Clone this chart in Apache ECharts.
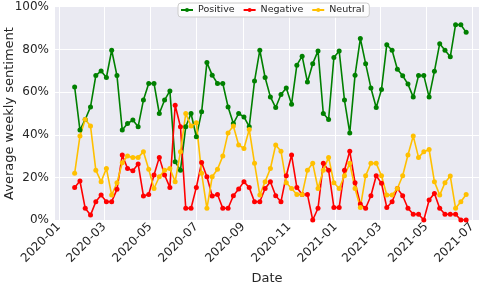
<!DOCTYPE html>
<html>
<head>
    <meta charset="utf-8">
    <style type="text/css">
        html,body { margin: 0px; padding: 0px; background: #fff; }
        #chart { width: 484px; height: 287px; }
    </style>
    <script src="https://cdn.jsdelivr.net/npm/echarts@6/dist/echarts.min.js"></script>
</head>
<body>
    <div id="chart"></div>
    <script type="text/javascript">
        // weekly dates
        var weeks = [
            '2020-01-22','2020-01-29','2020-02-05','2020-02-12','2020-02-19','2020-02-26',
            '2020-03-04','2020-03-11','2020-03-18','2020-03-25','2020-04-01','2020-04-08',
            '2020-04-15','2020-04-22','2020-04-29','2020-05-06','2020-05-13','2020-05-20',
            '2020-05-27','2020-06-03','2020-06-10','2020-06-17','2020-06-24','2020-07-01',
            '2020-07-08','2020-07-15','2020-07-22','2020-07-29','2020-08-05','2020-08-12',
            '2020-08-19','2020-08-26','2020-09-02','2020-09-09','2020-09-16','2020-09-23',
            '2020-09-30','2020-10-07','2020-10-14','2020-10-21','2020-10-28','2020-11-04',
            '2020-11-11','2020-11-18','2020-11-25','2020-12-02','2020-12-09','2020-12-16',
            '2020-12-23','2020-12-30','2021-01-06','2021-01-13','2021-01-20','2021-01-27',
            '2021-02-03','2021-02-10','2021-02-17','2021-02-24','2021-03-03','2021-03-10',
            '2021-03-17','2021-03-24','2021-03-31','2021-04-07','2021-04-14','2021-04-21',
            '2021-04-28','2021-05-05','2021-05-12','2021-05-19','2021-05-26','2021-06-02',
            '2021-06-09','2021-06-16','2021-06-23'
        ];
        var positive = [
            62.5, 42.2, 47.2, 53.1, 67.8, 70.0, 66.9, 79.7, 67.8, 42.2, 45.3, 46.9,
            43.8, 56.3, 64.1, 64.1, 50.0, 56.3, 60.6, 27.3, 23.4, 43.8, 50.0, 39.1,
            50.8, 73.9, 68.0, 64.1, 64.1, 53.1, 45.3, 50.0, 48.4, 43.8, 65.2, 79.7,
            66.9, 57.8, 52.8, 58.9, 62.0, 54.4, 72.7, 76.9, 64.8, 73.4, 79.4, 50.0,
            47.2, 76.3, 79.4, 56.3, 40.9, 68.0, 85.2, 73.4, 62.0, 52.8, 61.3, 82.3,
            79.7, 70.8, 67.7, 63.8, 57.7, 67.8, 67.8, 57.7, 69.8, 82.8, 79.7, 76.6,
            91.7, 91.7, 88.1
        ];
        var negative = [
            15.3, 18.3, 5.5, 2.3, 8.6, 11.7, 8.6, 8.6, 14.4, 30.5, 24.2, 23.1,
            26.3, 11.3, 12.0, 21.1, 29.4, 21.1, 15.3, 53.9, 43.8, 5.5, 5.5, 15.3,
            27.0, 20.3, 11.3, 12.0, 5.5, 5.5, 11.4, 14.5, 18.0, 15.2, 8.6, 8.6,
            14.8, 18.0, 11.4, 8.6, 20.8, 30.5, 15.3, 12.0, 12.0, 0.0, 5.5, 26.6,
            23.4, 5.9, 5.9, 23.4, 32.3, 17.5, 7.5, 5.5, 11.4, 20.8, 17.2, 5.9,
            8.6, 14.8, 11.4, 5.5, 2.7, 2.7, 0.0, 9.4, 12.5, 5.5, 2.7, 2.7,
            2.7, 0.0, 0.0
        ];
        var neutral = [
            21.9, 39.4, 47.2, 44.1, 23.4, 18.0, 24.2, 11.7, 17.5, 26.9, 30.0, 29.4,
            29.4, 32.0, 23.8, 14.8, 20.3, 23.4, 24.2, 18.0, 32.0, 50.0, 44.1, 45.6,
            21.9, 5.5, 20.3, 23.8, 30.0, 40.9, 44.1, 35.2, 33.6, 42.5, 26.6, 11.7,
            18.0, 24.2, 35.2, 32.3, 17.5, 14.8, 12.0, 12.0, 23.4, 26.6, 14.8, 23.4,
            29.4, 17.5, 14.8, 20.8, 26.6, 14.8, 5.9, 20.8, 26.6, 26.6, 20.8, 11.7,
            11.7, 14.8, 20.8, 30.5, 39.4, 29.4, 32.0, 33.1, 18.0, 11.7, 17.5, 20.6,
            5.5, 8.6, 12.0
        ];
        // x tick positions (every other month) and y ticks
        var monthTicks = [
            '2020-01-01','2020-03-01','2020-05-01','2020-07-01','2020-09-01',
            '2020-11-01','2021-01-01','2021-03-01','2021-05-01','2021-07-01'
        ];
        var yTicks = [20, 40, 60, 80];

        function ts(s){
            var p = s.split('-');
            return new Date(+p[0], +p[1] - 1, +p[2]).getTime();
        }
        function pairs(vals){
            return vals.map(function(v, i){ return [ts(weeks[i]), v]; });
        }
        function fmtMonth(v){
            var d = new Date(v);
            var m = d.getMonth() + 1;
            return d.getFullYear() + '-' + (m < 10 ? '0' + m : m);
        }

        var xMin = ts('2019-12-27');
        var xMax = ts('2021-07-10');
        var tickVals = monthTicks.map(ts);
        var textColor = '#262626';
        var font = 'DejaVu Sans';
        var bgColor = '#eaeaf2';

        var gridLines = tickVals.map(function(v){ return { xAxis: v }; })
            .concat(yTicks.map(function(v){ return { yAxis: v }; }));

        function lineSeries(name, color, vals){
            return {
                name: name,
                type: 'line',
                data: pairs(vals),
                symbol: 'circle',
                symbolSize: 5,
                showSymbol: true,
                z: 3,
                lineStyle: { color: color, width: 1.6 },
                itemStyle: { color: color },
                animation: false
            };
        }

        var myChart = echarts.init(document.getElementById('chart'), null, { renderer: 'canvas' });
        var option = {
            animation: false,
            backgroundColor: '#ffffff',
            textStyle: { fontFamily: font },
            grid: { left: 55, right: 5, top: 7, bottom: 67, outerBoundsMode: 'none', containLabel: false,
                    show: true, backgroundColor: bgColor, borderColor: bgColor, borderWidth: 0 },
            legend: {
                data: ['Positive', 'Negative', 'Neutral'],
                top: 3,
                left: 178,
                padding: [2, 5, 2, 2],
                itemGap: 8,
                itemWidth: 12,
                itemHeight: 5,
                backgroundColor: 'rgba(255,255,255,0.85)',
                borderColor: '#cccccc',
                borderWidth: 1,
                borderRadius: 3,
                textStyle: { fontFamily: font, fontSize: 9.5, color: textColor }
            },
            xAxis: {
                type: 'value',
                min: xMin,
                max: xMax,
                name: 'Date',
                nameLocation: 'middle',
                nameGap: 52,
                nameMoveOverlap: false,
                nameTextStyle: { fontFamily: font, fontSize: 13, color: textColor },
                axisLine: { show: false },
                axisTick: { show: false, customValues: tickVals },
                axisLabel: {
                    customValues: tickVals,
                    rotate: 45,
                    margin: 5,
                    fontFamily: font,
                    fontSize: 12,
                    color: textColor,
                    formatter: fmtMonth
                },
                splitLine: { show: false }
            },
            yAxis: {
                type: 'value',
                min: 0,
                max: 100,
                interval: 20,
                name: 'Average weekly sentiment',
                nameLocation: 'middle',
                nameGap: 39,
                nameMoveOverlap: false,
                nameTextStyle: { fontFamily: font, fontSize: 13, color: textColor },
                axisLine: { show: false },
                axisTick: { show: false },
                axisLabel: { formatter: '{value}%', fontFamily: font, fontSize: 12, color: textColor, margin: 6 },
                splitArea: { show: true, areaStyle: { color: [bgColor, bgColor], opacity: 1 } },
                splitLine: { show: false }
            },
            series: [
                {   // plot background and white grid lines
                    type: 'line',
                    data: [],
                    silent: true,
                    z: 1,
                    markArea: {
                        silent: true,
                        z: 1,
                        animation: false,
                        itemStyle: { color: bgColor, opacity: 1 },
                        data: [[{ xAxis: xMin, yAxis: 0 }, { xAxis: xMax, yAxis: 100 }]]
                    },
                    markLine: {
                        silent: true,
                        z: 2,
                        symbol: 'none',
                        animation: false,
                        label: { show: false },
                        lineStyle: { color: '#ffffff', width: 1, type: 'solid', opacity: 1 },
                        data: gridLines
                    }
                },
                lineSeries('Positive', '#008000', positive),
                lineSeries('Negative', '#ff0000', negative),
                lineSeries('Neutral', '#ffc000', neutral)
            ]
        };
        myChart.setOption(option);
    </script>
</body>
</html>
